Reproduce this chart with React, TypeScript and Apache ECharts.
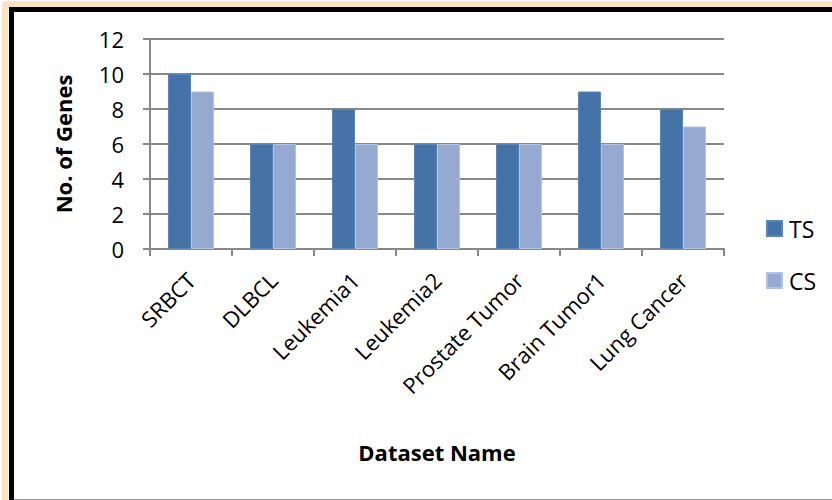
import React, { useEffect, useRef } from "react";
import * as echarts from "echarts";

// Dataset names and gene counts per selection method
const datasets = [
  "SRBCT",
  "DLBCL",
  "Leukemia1",
  "Leukemia2",
  "Prostate Tumor",
  "Brain Tumor1",
  "Lung Cancer",
];
const tsGenes = [10, 6, 8, 6, 6, 9, 8];
const csGenes = [9, 6, 6, 6, 6, 6, 7];

const FONT = "'Open Sans', 'Liberation Sans', sans-serif";
const GRID_GRAY = "#888888";

export default function App() {
  const ref = useRef<HTMLDivElement>(null);

  useEffect(() => {
    document.body.style.margin = "0";
    if (!ref.current) return;
    const chart = echarts.init(ref.current, null, { renderer: "svg" });
    chart.setOption({
      animation: false,
      backgroundColor: "#ffffff",
      textStyle: { fontFamily: FONT, color: "#000" },
      graphic: [
        // soft orange glow outside the frame
        { type: "line", silent: true, shape: { x1: 5, y1: 3, x2: 5, y2: 500 }, style: { stroke: "#fde3c2", lineWidth: 6 } },
        { type: "line", silent: true, shape: { x1: 3, y1: 4, x2: 832, y2: 4 }, style: { stroke: "#fde3c2", lineWidth: 6 } },
        // black frame edges
        { type: "line", silent: true, shape: { x1: 11.5, y1: 7, x2: 11.5, y2: 500 }, style: { stroke: "#000", lineWidth: 5 } },
        { type: "line", silent: true, shape: { x1: 9, y1: 9.5, x2: 832, y2: 9.5 }, style: { stroke: "#000", lineWidth: 5 } },
        // bottom hairline
        { type: "line", silent: true, shape: { x1: 14, y1: 499.5, x2: 832, y2: 499.5 }, style: { stroke: "#999", lineWidth: 1 } },
      ],
      grid: { left: 150, right: 108, top: 39, bottom: 251, containLabel: false },
      legend: {
        orient: "vertical",
        left: 766,
        top: 217,
        padding: 0,
        itemWidth: 15,
        itemHeight: 15,
        itemGap: 29,
        icon: "rect",
        textStyle: { fontFamily: FONT, fontSize: 23, color: "#000", padding: [0, 0, 0, 2] },
        data: ["TS", "CS"],
      },
      xAxis: {
        type: "category",
        data: datasets,
        name: "Dataset Name",
        nameLocation: "middle",
        nameGap: 192,
        nameTextStyle: { fontFamily: FONT, fontSize: 22, fontWeight: "bold", color: "#000" },
        axisLine: { lineStyle: { color: GRID_GRAY, width: 2 } },
        axisTick: { show: true, length: 7, lineStyle: { color: GRID_GRAY, width: 2 } },
        axisLabel: { rotate: 45, margin: 27, fontSize: 22, fontFamily: FONT, color: "#000" },
      },
      yAxis: {
        type: "value",
        min: 0,
        max: 12,
        interval: 2,
        name: "No. of Genes",
        nameLocation: "middle",
        nameGap: 76,
        nameTextStyle: { fontFamily: FONT, fontSize: 22, fontWeight: "bold", color: "#000" },
        axisLine: { show: true, lineStyle: { color: GRID_GRAY, width: 2 } },
        axisTick: { show: true, length: 7, lineStyle: { color: GRID_GRAY, width: 2 } },
        axisLabel: { margin: 26, fontSize: 22, fontFamily: FONT, color: "#000" },
        splitLine: { lineStyle: { color: GRID_GRAY, width: 2 } },
      },
      series: [
        {
          name: "TS",
          type: "bar",
          data: tsGenes,
          barGap: "0%",
          barCategoryGap: "44%",
          itemStyle: { color: "#4572a7", borderColor: "#5b84b8", borderWidth: 1 },
        },
        {
          name: "CS",
          type: "bar",
          data: csGenes,
          itemStyle: { color: "#95a9d1", borderColor: "#b3c2e0", borderWidth: 1 },
        },
      ],
    });
    return () => chart.dispose();
  }, []);

  return <div ref={ref} style={{ width: 832, height: 500 }} />;
}
